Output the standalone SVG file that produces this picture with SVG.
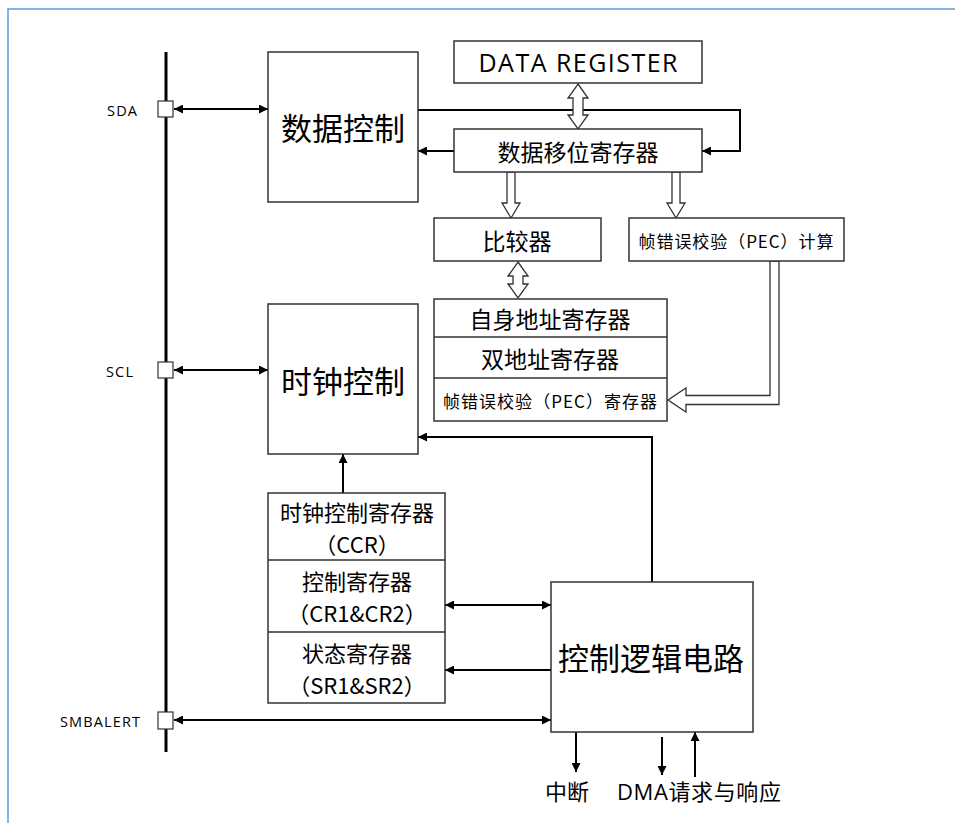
<svg xmlns="http://www.w3.org/2000/svg" width="955" height="823" viewBox="0 0 955 823">
<style>
.box{fill:#fff;stroke:#333;stroke-width:1.5}
.pin{fill:#fff;stroke:#333;stroke-width:1.2}
.hol{fill:#fff;stroke:#333;stroke-width:1.3;stroke-linejoin:miter}
.ln{fill:none;stroke:#000;stroke-width:2}
.cjk{font-family:"Noto Sans CJK SC","Noto Sans",sans-serif;fill:#000;text-anchor:middle;dominant-baseline:central}
.lat{font-family:"Open Sans","Noto Sans CJK SC",sans-serif;fill:#000;dominant-baseline:central}
</style>
<defs>
<marker id="ah" viewBox="0 0 10 10" refX="10" refY="5" markerWidth="10" markerHeight="9" markerUnits="userSpaceOnUse" orient="auto-start-reverse">
<path d="M0,0 L10,5 L0,10 z" fill="#000"/>
</marker>
</defs>
<rect width="955" height="823" fill="#fff"/>
<g id="frame">
<path d="M8,823 L8,9 L955,9" fill="none" stroke="#5b9bd5" stroke-width="1.5"/>
</g>
<g id="bus">
<line x1="166" y1="52" x2="166" y2="752" stroke="#000" stroke-width="3"/>
</g>
<g id="connectors">
<line class="ln" x1="174" y1="109" x2="268" y2="109" marker-start="url(#ah)" marker-end="url(#ah)"/>
<polyline class="ln" points="418,110 740,110 740,151 702,151" marker-end="url(#ah)"/>
<line class="ln" x1="454" y1="151" x2="418" y2="151" marker-end="url(#ah)"/>
<line class="ln" x1="174" y1="370" x2="268" y2="370" marker-start="url(#ah)" marker-end="url(#ah)"/>
<polyline class="ln" points="652,582 652,437 418,437" marker-end="url(#ah)"/>
<line class="ln" x1="343" y1="493" x2="343" y2="454" marker-end="url(#ah)"/>
<line class="ln" x1="445" y1="605" x2="551" y2="605" marker-start="url(#ah)" marker-end="url(#ah)"/>
<line class="ln" x1="551" y1="670" x2="445" y2="670" marker-end="url(#ah)"/>
<line class="ln" x1="174" y1="720" x2="551" y2="720" marker-start="url(#ah)" marker-end="url(#ah)"/>
<line class="ln" x1="576" y1="732" x2="576" y2="772" marker-end="url(#ah)"/>
<line class="ln" x1="662" y1="737" x2="662" y2="775" marker-end="url(#ah)"/>
<line class="ln" x1="695" y1="777" x2="695" y2="732" marker-end="url(#ah)"/>
<polygon class="hol" points="578,84 588,98 583,98 583,115 588,115 578,129 568,115 573,115 573,98 568,98"/>
<polygon class="hol" points="507,172 515,172 515,203 520,203 511,218 502,203 507,203"/>
<polygon class="hol" points="672,172 680,172 680,203 685,203 676,218 667,203 672,203"/>
<polygon class="hol" points="518,262 528,276 523,276 523,284 528,284 518,298 508,284 513,284 513,276 508,276"/>
<polygon class="hol" points="770,261 779,261 779,404.5 686,404.5 686,412 668,400 686,388 686,395.5 770,395.5"/>
</g>
<g id="pin-sda">
<rect class="pin" x="158" y="101" width="15" height="16"/>
<text class="lat" x="107" y="110" font-size="14.5" textLength="30">SDA</text>
</g>
<g id="pin-scl">
<rect class="pin" x="158" y="362" width="15" height="16"/>
<text class="lat" x="106" y="371" font-size="14.5" textLength="27">SCL</text>
</g>
<g id="pin-smbalert">
<rect class="pin" x="158" y="712" width="15" height="17"/>
<text class="lat" x="60" y="721" font-size="14.5" textLength="80">SMBALERT</text>
</g>
<g id="data-ctrl">
<rect class="box" x="268" y="52" width="150" height="150"/>
<text class="cjk" x="343" y="126" font-size="31">数据控制</text>
</g>
<g id="data-register">
<rect class="box" x="454" y="41" width="248" height="42"/>
<text class="lat" x="578" y="62" font-size="25" text-anchor="middle" textLength="199">DATA REGISTER</text>
</g>
<g id="shift-register">
<rect class="box" x="454" y="129" width="248" height="43"/>
<text class="cjk" x="578" y="151" font-size="23">数据移位寄存器</text>
</g>
<g id="comparator">
<rect class="box" x="434" y="218" width="167" height="43"/>
<text class="cjk" x="517" y="240" font-size="23">比较器</text>
</g>
<g id="pec-calc">
<rect class="box" x="629" y="218" width="215" height="43"/>
<text class="cjk" x="736" y="240" font-size="17" textLength="195">帧错误校验（PEC）计算</text>
</g>
<g id="addr-stack">
<rect class="box" x="434" y="299" width="233" height="122"/>
<line x1="434" y1="337" x2="667" y2="337" stroke="#333" stroke-width="1.5"/>
<line x1="434" y1="378" x2="667" y2="378" stroke="#333" stroke-width="1.5"/>
<text class="cjk" x="550" y="318" font-size="23">自身地址寄存器</text>
<text class="cjk" x="550" y="358" font-size="23">双地址寄存器</text>
<text class="cjk" x="550" y="400" font-size="17" textLength="214">帧错误校验（PEC）寄存器</text>
</g>
<g id="clock-ctrl">
<rect class="box" x="268" y="304" width="150" height="150"/>
<text class="cjk" x="343" y="379" font-size="31">时钟控制</text>
</g>
<g id="ctrl-regs">
<rect class="box" x="268" y="493" width="177" height="210"/>
<line x1="268" y1="560" x2="445" y2="560" stroke="#333" stroke-width="1.5"/>
<line x1="268" y1="632" x2="445" y2="632" stroke="#333" stroke-width="1.5"/>
<text class="cjk" font-size="22"><tspan x="357" y="511">时钟控制寄存器</tspan><tspan x="357" y="543">（CCR）</tspan></text>
<text class="cjk" font-size="22"><tspan x="357" y="580">控制寄存器</tspan><tspan x="357" y="612">（CR1&amp;CR2）</tspan></text>
<text class="cjk" font-size="22"><tspan x="357" y="652">状态寄存器</tspan><tspan x="357" y="684">（SR1&amp;SR2）</tspan></text>
</g>
<g id="ctrl-logic">
<rect class="box" x="551" y="582" width="202" height="150"/>
<text class="cjk" x="651" y="656" font-size="31">控制逻辑电路</text>
</g>
<g id="labels">
<text class="lat" x="545" y="791" font-size="22">中断</text>
<text class="lat" x="617" y="791" font-size="22" textLength="164">DMA请求与响应</text>
</g>
</svg>
